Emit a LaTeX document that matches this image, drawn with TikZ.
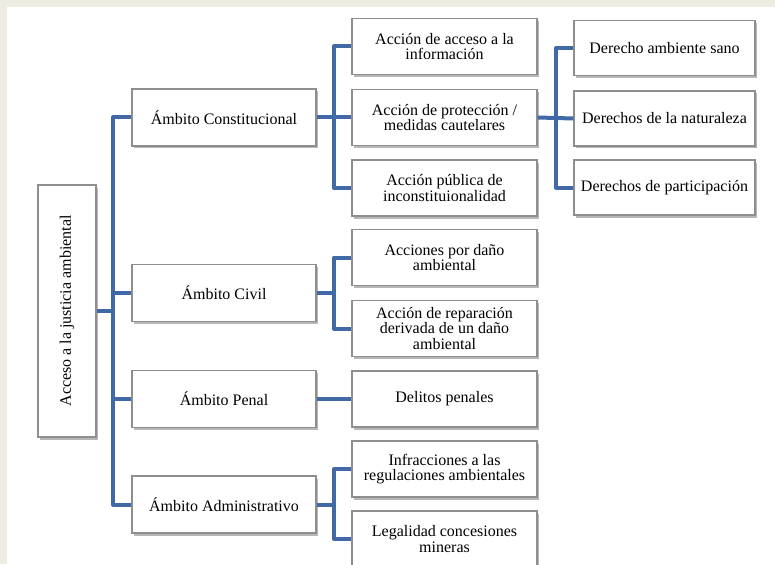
\documentclass[tikz,border=0pt]{standalone}
\usepackage{fontspec}
\setmainfont{Liberation Serif}
\usetikzlibrary{shadows}
\definecolor{bgbeige}{HTML}{EEEBE3}
\definecolor{connblue}{HTML}{4169A6}
\definecolor{boxline}{HTML}{8E8E8E}
\tikzset{
  box/.style={draw=boxline, line width=1.1pt, fill=white, align=center,
    inner sep=2pt, font=\fontsize{16}{15.5}\selectfont,
    drop shadow={shadow xshift=2pt, shadow yshift=-2.5pt, opacity=0.4, fill=black!70}},
  lvlone/.style={box, minimum width=184pt, minimum height=57pt},
  lvltwo/.style={box, minimum width=185pt, minimum height=56pt},
  lvlthree/.style={box, minimum width=181pt, minimum height=55pt},
  conn/.style={draw=connblue, line width=4pt, line join=round}
}
\begin{document}
\begin{tikzpicture}[x=1pt, y=-1pt]
\useasboundingbox (0,0) rectangle (775,564);
\fill[bgbeige] (0,0) rectangle (775,564);
\fill[white] (7,7) rectangle (775,564);
\clip (0,0) rectangle (775,564);

% root
\node[box, minimum width=58pt, minimum height=252pt] (root) at (67,311)
  {\rotatebox{90}{Acceso a la justicia ambiental}};

% level one
\node[lvlone] (c1) at (224,117.5) {Ámbito Constitucional};
\node[lvlone] (c2) at (224,293) {Ámbito Civil};
\node[lvlone] (c3) at (224,399) {Ámbito Penal};
\node[lvlone] (c4) at (224,504.5) {Ámbito Administrativo};

% level two
\node[lvltwo] (d1) at (444.5,46.5) {Acción de acceso a la\\información};
\node[lvltwo] (d2) at (444.5,117.5) {Acción de protección /\\medidas cautelares};
\node[lvltwo] (d3) at (444.5,188) {Acción pública de\\inconstituionalidad};
\node[lvltwo] (d4) at (444.5,257.5) {Acciones por daño\\ambiental};
\node[lvltwo] (d5) at (444.5,328.5) {Acción de reparación\\derivada de un daño\\ambiental};
\node[lvltwo] (d6) at (444.5,399) {Delitos penales};
\node[lvltwo] (d7) at (444.5,469) {Infracciones a las\\regulaciones ambientales};
\node[lvltwo] (d8) at (444.5,539) {Legalidad concesiones\\mineras};

% level three
\node[lvlthree] (e1) at (664.5,48) {Derecho ambiente sano};
\node[lvlthree] (e2) at (664.5,118.5) {Derechos de la naturaleza};
\node[lvlthree] (e3) at (664.5,187.5) {Derechos de participación};

% bus x-positions
\coordinate (ta) at (113,0);
\coordinate (tb) at (334,0);
\coordinate (tc) at (556,0);

% root to level one
\draw[conn] (root.east) -- (root.east -| ta);
\draw[conn] (c1.west) -- (c1.west -| ta) -- (c4.west -| ta) -- (c4.west);
\draw[conn] (c2.west) -- (c2.west -| ta);
\draw[conn] (c3.west) -- (c3.west -| ta);

% constitucional
\draw[conn] (c1.east) -- (d2.west);
\draw[conn] (d1.west) -- (d1.west -| tb) -- (d3.west -| tb) -- (d3.west);

% civil
\draw[conn] (c2.east) -- (c2.east -| tb);
\draw[conn] (d4.west) -- (d4.west -| tb) -- (d5.west -| tb) -- (d5.west);

% penal
\draw[conn] (c3.east) -- (d6.west);

% administrativo
\draw[conn] (c4.east) -- (c4.east -| tb);
\draw[conn] (d7.west) -- (d7.west -| tb) -- (d8.west -| tb) -- (d8.west);

% level three
\draw[conn] (d2.east) -- (e2.west);
\draw[conn] (e1.west) -- (e1.west -| tc) -- (e3.west -| tc) -- (e3.west);
\end{tikzpicture}
\end{document}
